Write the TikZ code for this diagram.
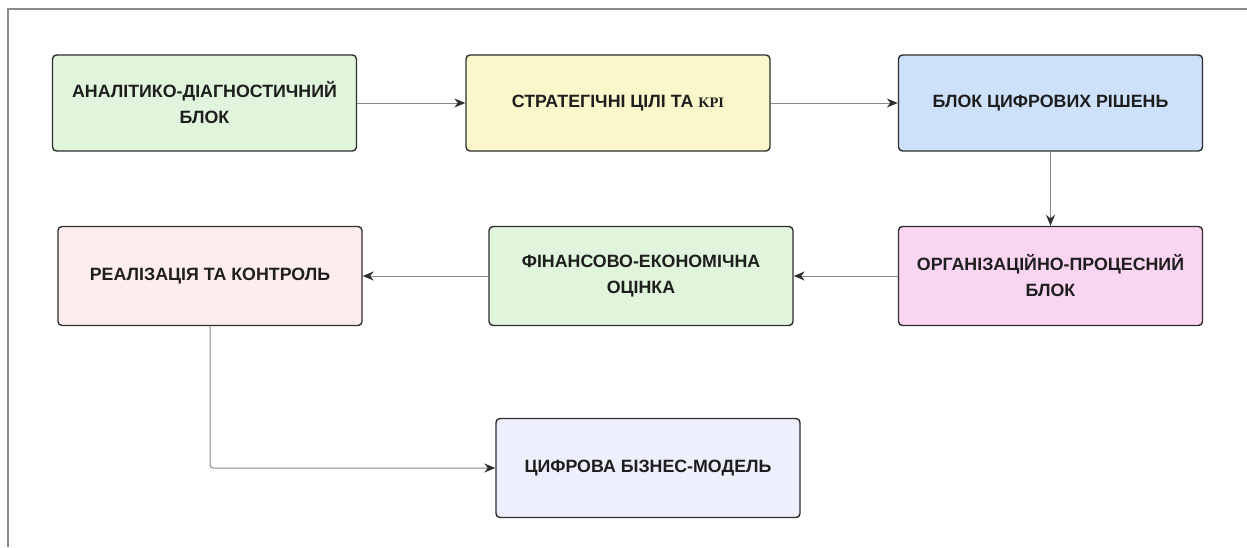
\documentclass[tikz,border=0pt]{standalone}
\usepackage{fontspec}
\setmainfont{Liberation Sans}
\newfontfamily\kpifont{Liberation Serif}
\usetikzlibrary{arrows.meta}
\definecolor{cgreen}{HTML}{E0F5DC}
\definecolor{cyellow}{HTML}{FAF8CA}
\definecolor{cblue}{HTML}{CDE1FA}
\definecolor{cpink}{HTML}{FAD5F2}
\definecolor{cgreenb}{HTML}{E0F5DC}
\definecolor{crose}{HTML}{FDEDEC}
\definecolor{clav}{HTML}{EEEFFC}
\definecolor{cborder}{HTML}{2E2E2E}
\definecolor{cline}{HTML}{8A8A8A}
\definecolor{ctext}{HTML}{1E1E1E}
\tikzset{
  blockbox/.style={draw=cborder, line width=1.4pt, rounded corners=4pt,
    minimum width=304pt, minimum height=96pt, align=center, inner sep=0pt,
    text=ctext, font=\fontsize{17.8}{26}\selectfont\bfseries},
  flowarrow/.style={draw=cline, line width=1pt,
    -{Stealth[length=11pt,width=9pt,color=cborder]}},
  frameline/.style={draw=cline, line width=1.3pt}
}
\begin{document}
\begin{tikzpicture}[x=1pt,y=-1pt]
\useasboundingbox (0,0) rectangle (1247,547);
\fill[white] (0,0) rectangle (1247,547);
\draw[frameline] (8,547) -- (8,9) -- (1247,9);

\node[blockbox, fill=cgreen] (a) at (204.5,103) {АНАЛІТИКО-ДІАГНОСТИЧНИЙ\\БЛОК};
\node[blockbox, fill=cyellow] (b) at (618,103) {СТРАТЕГІЧНІ ЦІЛІ ТА {\kpifont\fontsize{14.5}{26}\selectfont KPI}};
\node[blockbox, fill=cblue] (c) at (1050.5,103) {БЛОК ЦИФРОВИХ РІШЕНЬ};
\node[blockbox, fill=cpink, minimum height=99pt] (d) at (1050.5,276) {ОРГАНІЗАЦІЙНО-ПРОЦЕСНИЙ\\БЛОК};
\node[blockbox, fill=cgreenb, minimum height=99pt] (e) at (641,276) {ФІНАНСОВО-ЕКОНОМІЧНА\\ОЦІНКА};
\node[blockbox, fill=crose, minimum height=99pt] (f) at (210,276) {РЕАЛІЗАЦІЯ ТА КОНТРОЛЬ};
\node[blockbox, fill=clav, minimum height=99pt] (g) at (648,468) {ЦИФРОВА БІЗНЕС-МОДЕЛЬ};

\draw[flowarrow] (a.east) -- (b.west);
\draw[flowarrow] (b.east) -- (c.west);
\draw[flowarrow] (c.south) -- (d.north);
\draw[flowarrow] (d.west) -- (e.east);
\draw[flowarrow] (e.west) -- (f.east);
\draw[flowarrow, rounded corners=3pt] (f.south) |- (g.west);
\end{tikzpicture}
\end{document}
